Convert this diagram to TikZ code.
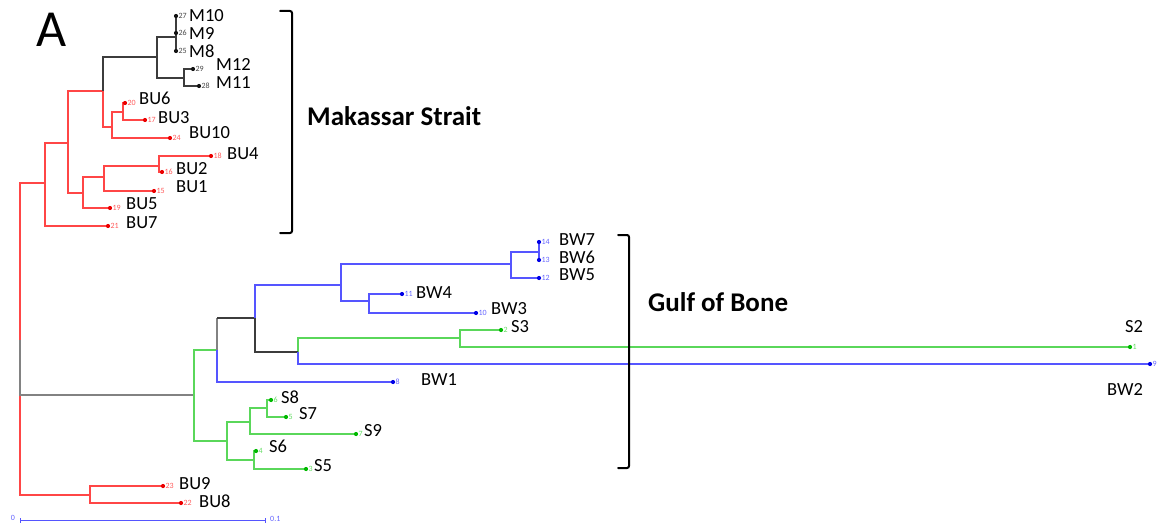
\documentclass[tikz,border=0pt]{standalone}
\usepackage{fontspec}
\setmainfont{Carlito}
\definecolor{tred}{RGB}{255,70,70}
\definecolor{tblue}{RGB}{85,85,255}
\definecolor{tgreen}{RGB}{90,215,90}
\definecolor{tblack}{RGB}{60,60,60}
\definecolor{tgrey}{RGB}{130,130,130}
\definecolor{dred}{RGB}{235,0,0}
\definecolor{dblue}{RGB}{0,0,230}
\definecolor{dgreen}{RGB}{0,185,0}
\definecolor{dblack}{RGB}{20,20,20}
\definecolor{nred}{RGB}{255,90,90}
\definecolor{nblue}{RGB}{100,100,255}
\definecolor{ngreen}{RGB}{100,220,100}
\definecolor{nblack}{RGB}{70,70,70}
\newcommand\leafpt[6]{%
  \coordinate (#1) at (#2,#3);
  \fill[#5] (#1) circle (2.1pt);
  \node[num, text=#6] (#1n) at ([xshift=2.4pt]#1) {#4};
}
\begin{document}
\begin{tikzpicture}[x=1pt,y=-1pt,
  edge/.style={line width=1.2pt},
  lab/.style={anchor=west, font=\fontsize{18.5}{20}\selectfont, inner sep=0pt},
  num/.style={anchor=west, font=\fontsize{8}{9}\selectfont, inner sep=0pt},
  brk/.style={line width=2pt, rounded corners=2pt, line cap=round},
  region/.style={font=\bfseries\fontsize{27}{29}\selectfont, anchor=west, inner sep=0pt}]
\useasboundingbox (0,0) rectangle (1161,524);

% panel letter
\node[font=\fontsize{52}{54}\selectfont, inner sep=0pt] (panelA) at (52,30) {A};

% internal nodes
\coordinate (r) at (20,340);
\coordinate (n45) at (45,183);
\coordinate (n68) at (68,143);
\coordinate (n103) at (103,91);
\coordinate (nM) at (157,57);
\coordinate (nM3) at (176,37);
\coordinate (nM12) at (184,78);
\coordinate (n112) at (112,127);
\coordinate (n123) at (123,112);
\coordinate (n83) at (83,193);
\coordinate (n104) at (104,177);
\coordinate (n159) at (159,166);
\coordinate (n90) at (90,495);
\coordinate (g194) at (194,395);
\coordinate (n217) at (217,350);
\coordinate (n255) at (255,318);
\coordinate (n341) at (341,285);
\coordinate (n511) at (511,264);
\coordinate (nBW67) at (539,252);
\coordinate (n369) at (369,301);
\coordinate (n298) at (298,352);
\coordinate (n460) at (460,338);
\coordinate (nS) at (227,441);
\coordinate (n250) at (250,422);
\coordinate (n267) at (267,408);
\coordinate (n254) at (254,460);

% leaf coordinates
\coordinate (M10) at (176,16);
\coordinate (M9) at (176,33);
\coordinate (M8) at (176,51);
\coordinate (M12) at (193,69);
\coordinate (M11) at (199,86);
\coordinate (BU6) at (125,103);
\coordinate (BU3) at (145,120);
\coordinate (BU10) at (170,138);
\coordinate (BU4) at (211,156);
\coordinate (BU2) at (162,172);
\coordinate (BU1) at (154,191);
\coordinate (BU5) at (110,208);
\coordinate (BU7) at (108,226);
\coordinate (BW7) at (539,242);
\coordinate (BW6) at (539,260);
\coordinate (BW5) at (539,278);
\coordinate (BW4) at (402,294);
\coordinate (BW3) at (476,313);
\coordinate (S3) at (501,330);
\coordinate (S2) at (1130,347);
\coordinate (BW2) at (1150,364);
\coordinate (BW1) at (393,382);
\coordinate (S8) at (271,400);
\coordinate (S7) at (286,417);
\coordinate (S9) at (356,434);
\coordinate (S6) at (256,451);
\coordinate (S5) at (306,469);
\coordinate (BU9) at (163,486);
\coordinate (BU8) at (181,503);

% red edges
\draw[edge,tred] (r) |- (n45);
\draw[edge,tred] (r) |- (n90);
\draw[edge,tred] (n45) |- (n68);
\draw[edge,tred] (n45) |- (BU7);
\draw[edge,tred] (n68) |- (n103);
\draw[edge,tred] (n68) |- (n83);
\draw[edge,tred] (n103) |- (n112);
\draw[edge,tred] (n112) |- (n123);
\draw[edge,tred] (n112) |- (BU10);
\draw[edge,tred] (n123) |- (BU6);
\draw[edge,tred] (n123) |- (BU3);
\draw[edge,tred] (n83) |- (n104);
\draw[edge,tred] (n83) |- (BU5);
\draw[edge,tred] (n104) |- (n159);
\draw[edge,tred] (n104) |- (BU1);
\draw[edge,tred] (n159) |- (BU4);
\draw[edge,tred] (n159) |- (BU2);
\draw[edge,tred] (n90) |- (BU9);
\draw[edge,tred] (n90) |- (BU8);
% black edges
\draw[edge,tblack] (n103) |- (nM);
\draw[edge,tblack] (nM) |- (nM3);
\draw[edge,tblack] (nM) |- (nM12);
\draw[edge,tblack] (nM3) |- (M10);
\draw[edge,tblack] (nM3) |- (M8);
\draw[edge,tblack] (nM12) |- (M12);
\draw[edge,tblack] (nM12) |- (M11);
% grey root branch
\draw[edge,tgrey] (r) |- (g194);
% green edges
\draw[edge,tgreen] (g194) |- (n217);
\draw[edge,tgreen] (g194) |- (nS);
\draw[edge,tgreen] (nS) |- (n250);
\draw[edge,tgreen] (nS) |- (n254);
\draw[edge,tgreen] (n250) |- (n267);
\draw[edge,tgreen] (n250) |- (S9);
\draw[edge,tgreen] (n267) |- (S8);
\draw[edge,tgreen] (n267) |- (S7);
\draw[edge,tgreen] (n254) |- (S6);
\draw[edge,tgreen] (n254) |- (S5);
\draw[edge,tgreen] (n298) |- (n460);
\draw[edge,tgreen] (n460) |- (S3);
\draw[edge,tgreen] (n460) |- (S2);
% mixed clade
\draw[edge,tgrey] (n217) -- (n217 |- n255);
\draw[edge,tblack] (n217 |- n255) -- (n255);
\draw[edge,tblack] (n255) |- (n298);
% blue edges
\draw[edge,tblue] (n217) |- (BW1);
\draw[edge,tblue] (n255) |- (n341);
\draw[edge,tblue] (n341) |- (n511);
\draw[edge,tblue] (n341) |- (n369);
\draw[edge,tblue] (n511) |- (nBW67);
\draw[edge,tblue] (n511) |- (BW5);
\draw[edge,tblue] (nBW67) |- (BW7);
\draw[edge,tblue] (nBW67) |- (BW6);
\draw[edge,tblue] (n369) |- (BW4);
\draw[edge,tblue] (n369) |- (BW3);
\draw[edge,tblue] (n298) |- (BW2);

% leaf dots and numbers
\leafpt{M10}{176}{16}{27}{dblack}{nblack}
\leafpt{M9}{176}{33}{26}{dblack}{nblack}
\leafpt{M8}{176}{51}{25}{dblack}{nblack}
\leafpt{M12}{193}{69}{29}{dblack}{nblack}
\leafpt{M11}{199}{86}{28}{dblack}{nblack}
\leafpt{BU6}{125}{103}{20}{dred}{nred}
\leafpt{BU3}{145}{120}{17}{dred}{nred}
\leafpt{BU10}{170}{138}{24}{dred}{nred}
\leafpt{BU4}{211}{156}{18}{dred}{nred}
\leafpt{BU2}{162}{172}{16}{dred}{nred}
\leafpt{BU1}{154}{191}{15}{dred}{nred}
\leafpt{BU5}{110}{208}{19}{dred}{nred}
\leafpt{BU7}{108}{226}{21}{dred}{nred}
\leafpt{BW7}{539}{242}{14}{dblue}{nblue}
\leafpt{BW6}{539}{260}{13}{dblue}{nblue}
\leafpt{BW5}{539}{278}{12}{dblue}{nblue}
\leafpt{BW4}{402}{294}{11}{dblue}{nblue}
\leafpt{BW3}{476}{313}{10}{dblue}{nblue}
\leafpt{S3}{501}{330}{2}{dgreen}{ngreen}
\leafpt{S2}{1130}{347}{1}{dgreen}{ngreen}
\leafpt{BW2}{1150}{364}{9}{dblue}{nblue}
\leafpt{BW1}{393}{382}{8}{dblue}{nblue}
\leafpt{S8}{271}{400}{6}{dgreen}{ngreen}
\leafpt{S7}{286}{417}{5}{dgreen}{ngreen}
\leafpt{S9}{356}{434}{7}{dgreen}{ngreen}
\leafpt{S6}{256}{451}{4}{dgreen}{ngreen}
\leafpt{S5}{306}{469}{3}{dgreen}{ngreen}
\leafpt{BU9}{163}{486}{23}{dred}{nred}
\leafpt{BU8}{181}{503}{22}{dred}{nred}

% leaf labels
\node[lab] (M10l) at (189,16) {M10};
\node[lab] (M9l) at (189,33) {M9};
\node[lab] (M8l) at (189,51) {M8};
\node[lab] (M12l) at (216,64) {M12};
\node[lab] (M11l) at (216,83) {M11};
\node[lab] (BU6l) at (139,98) {BU6};
\node[lab] (BU3l) at (158,118) {BU3};
\node[lab] (BU10l) at (189,133) {BU10};
\node[lab] (BU4l) at (227,154) {BU4};
\node[lab] (BU2l) at (176,169) {BU2};
\node[lab] (BU1l) at (176,187) {BU1};
\node[lab] (BU5l) at (126,204) {BU5};
\node[lab] (BU7l) at (126,223) {BU7};
\node[lab] (BW7l) at (559,240) {BW7};
\node[lab] (BW6l) at (559,257) {BW6};
\node[lab] (BW5l) at (559,275) {BW5};
\node[lab] (BW4l) at (416,293) {BW4};
\node[lab] (BW3l) at (491,309) {BW3};
\node[lab] (S3l) at (511,327) {S3};
\node[lab] (S2l) at (1125,327) {S2};
\node[lab] (BW2l) at (1107,389) {BW2};
\node[lab] (BW1l) at (421,380) {BW1};
\node[lab] (S8l) at (281,397) {S8};
\node[lab] (S7l) at (299,414) {S7};
\node[lab] (S9l) at (364,431) {S9};
\node[lab] (S6l) at (269,446) {S6};
\node[lab] (S5l) at (314,466) {S5};
\node[lab] (BU9l) at (179,484) {BU9};
\node[lab] (BU8l) at (199,501) {BU8};

% brackets and region labels
\coordinate (mkA) at (280,11);
\coordinate (mkB) at (292,11);
\coordinate (mkC) at (292,233);
\coordinate (mkD) at (280,233);
\draw[brk] (mkA) -- (mkB) -- (mkC) -- (mkD);
\node[region] (mak) at (307,116) {Makassar Strait};
\coordinate (gbA) at (618,235);
\coordinate (gbB) at (629,235);
\coordinate (gbC) at (629,468);
\coordinate (gbD) at (618,468);
\draw[brk] (gbA) -- (gbB) -- (gbC) -- (gbD);
\node[region] (gob) at (648,302) {Gulf of Bone};

% scale bar
\coordinate (sb0) at (20,520);
\coordinate (sb1) at (265,520);
\draw[tblue, line width=1pt] (sb0) -- (sb1);
\draw[tblue, line width=1pt] ([yshift=-2.5pt]sb0) -- ([yshift=2.5pt]sb0);
\draw[tblue, line width=1pt] ([yshift=-2.5pt]sb1) -- ([yshift=2.5pt]sb1);
\node[num, text=nblue, anchor=center] (sbl0) at (13,518) {0};
\node[num, text=nblue] (sbl1) at (270,519) {0.1};
\end{tikzpicture}
\end{document}
